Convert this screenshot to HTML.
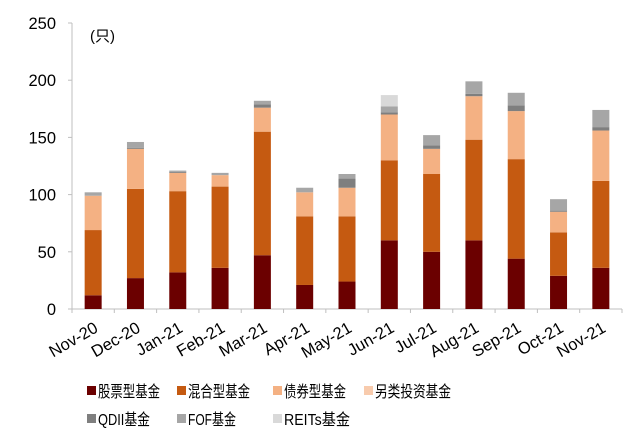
<!DOCTYPE html>
<html><head><meta charset="utf-8">
<style>
html,body{margin:0;padding:0;background:#fff;width:640px;height:438px;overflow:hidden}
svg{display:block;font-family:"Liberation Sans","Noto Sans CJK SC",sans-serif}
</style></head>
<body>
<svg id="chart" width="640" height="438" viewBox="0 0 640 438" xmlns="http://www.w3.org/2000/svg"></svg>
<script>
const categories=["Nov-20","Dec-20","Jan-21","Feb-21","Mar-21","Apr-21","May-21","Jun-21","Jul-21","Aug-21","Sep-21","Oct-21","Nov-21"];
const stockFunds=[12,27,32,36,47,21,24,60,50,60,44,29,36];
const mixedFunds=[57,78,71,71,108,60,57,70,68,88,87,38,76];
const bondFunds=[30,35,16,10,21,21,25,40,22,38,42,18,44];
const altFunds=[0,0,0,0,0,0,0,0,0,0,0,0,0];
const qdiiFunds=[0,1,1,0,3,0,8,2,3,2,5,1,3];
const fofFunds=[3,5,1,2,3,4,4,5,9,11,11,10,15];
const reitsFunds=[0,0,0,0,0,0,0,10,0,0,0,0,0];
const yTicks=[0,50,100,150,200,250];
const seriesNames=["股票型基金","混合型基金","债券型基金","另类投资基金","QDII基金","FOF基金","REITs基金"];
const seriesKeys=["stock","mixed","bond","alternative","qdii","fof","reits"];
const seriesColors=["#6b0000","#c55a11","#f4b183","#f8cbad","#7f7f7f","#a6a6a6","#d9d9d9"];
const seriesData=[stockFunds,mixedFunds,bondFunds,altFunds,qdiiFunds,fofFunds,reitsFunds];

const svg=document.getElementById('chart');
const NS="http://www.w3.org/2000/svg";
const left=72,right=622,y0=309,yTop=23,yMax=250;
const bandW=(right-left)/categories.length,barW=17;
function yScale(v){return y0-(v/yMax)*(y0-yTop);}
function xCenter(i){return left+bandW*(i+0.5);}
function mk(tag,attrs){const e=document.createElementNS(NS,tag);for(const k in attrs)e.setAttribute(k,attrs[k]);svg.appendChild(e);return e;}

const ya=mk('line',{x1:left,y1:yTop,x2:left,y2:y0,stroke:'#bfbfbf','stroke-width':1});


const xa=mk('line',{x1:left,y1:y0,x2:right,y2:y0,stroke:'#bfbfbf','stroke-width':1});


yTicks.forEach(t=>{
  const y=yScale(t);
  const tk=mk('line',{x1:left-4,y1:y,x2:left,y2:y,stroke:'#bfbfbf'});
  
  
  const tx=mk('text',{x:left-16,y:y+6,'text-anchor':'end','font-size':16.5,fill:'#000'});
  tx.textContent=t;
  
  
});
for(let i=0;i<=categories.length;i++){
  const x=left+bandW*i;
  const tk=mk('line',{x1:x,y1:y0,x2:x,y2:y0+4,stroke:'#bfbfbf'});
  
  
}
const unit=mk('text',{x:90,y:41,'font-size':15,fill:'#000'});
unit.textContent='(只)';



categories.forEach((c,i)=>{
  let cum=0;
  seriesData.forEach((arr,s)=>{
    const v=arr[i];
    if(v<=0)return;
    const yb=yScale(cum),yt=yScale(cum+v);
    const r=mk('rect',{x:xCenter(i)-barW/2,y:yt,width:barW,height:yb-yt,fill:seriesColors[s]});
    
    
    cum+=v;
  });
  const x=xCenter(i)+6,y=y0+22;
  const lb=mk('text',{x:x,y:y,'text-anchor':'end','font-size':16.5,fill:'#000',transform:'rotate(-30 '+x+' '+y+')'});
  lb.textContent=c;
  
  
});

const legPos=[[87,392],[177,392],[273,392],[364,392],[87,420],[177,420],[273,420]];
const legLen=[62,62,62,76,52,48,66];
seriesNames.forEach((n,s)=>{
  const [x,y]=legPos[s];
  const sq=mk('rect',{x:x,y:y-6,width:9,height:9,fill:seriesColors[s]});
  
  
  const t=mk('text',{x:x+11,y:y+5,'font-size':16,fill:'#000',textLength:legLen[s],lengthAdjust:'spacingAndGlyphs'});
  t.textContent=n;
  
  
});
</script>
</body></html>
